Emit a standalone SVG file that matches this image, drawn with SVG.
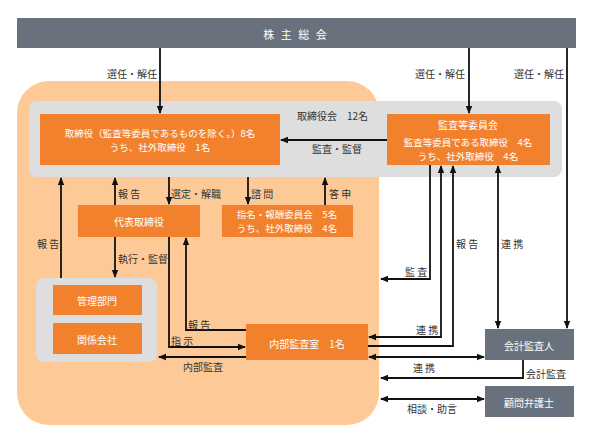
<svg xmlns="http://www.w3.org/2000/svg" width="592" height="444" viewBox="0 0 592 444">
<style>
text{font-family:"Noto Sans CJK JP","Noto Sans",sans-serif;font-size:10px;dominant-baseline:central}
.w{fill:#ffffff;text-anchor:middle}
.s{font-size:9.5px}
.l{fill:#333333}
.c{text-anchor:middle}
.e{text-anchor:end}
.ob{fill:#f2812e}
.gb{fill:#69717d}
.ln{fill:none;stroke:#111111;stroke-width:1.8}
</style>
<defs>
<marker id="ah" viewBox="0 0 8 8" refX="7" refY="4" markerWidth="8" markerHeight="8" markerUnits="userSpaceOnUse" orient="auto-start-reverse">
<path d="M0,0.8 L8,4 L0,7.2 Z" fill="#111111"/>
</marker>
</defs>
<rect width="592" height="444" fill="#ffffff"/>
<g id="bg-company">
<rect x="17" y="81" width="362" height="344" rx="32" fill="#fdca97"/>
</g>
<g id="board">
<rect x="29" y="101" width="533" height="76" rx="8" fill="#dedede"/>
<text class="l" x="297" y="115">取締役会　12名</text>
</g>
<g id="group-box">
<rect x="36" y="278" width="121" height="84" rx="8" fill="#dedede"/>
</g>
<g id="shareholders">
<rect x="17" y="18" width="559" height="30" class="gb"/>
<text class="w" x="296" y="34" style="font-size:11px;letter-spacing:2px">株 主 総 会</text>
</g>
<g id="directors">
<rect x="40" y="114" width="240" height="51" class="ob"/>
<text class="w s" x="160" y="132.5">取締役（監査等委員であるものを除く。）8名</text>
<text class="w s" x="160" y="146.5">うち、社外取締役　1名</text>
</g>
<g id="audit-committee">
<rect x="387" y="114" width="163" height="51" class="ob"/>
<text class="w" x="468" y="124">監査等委員会</text>
<text class="w s" x="468" y="141.5">監査等委員である取締役　4名</text>
<text class="w s" x="468" y="155.5">うち、社外取締役　4名</text>
</g>
<g id="representative">
<rect x="78" y="205" width="122" height="32" class="ob"/>
<text class="w" x="139" y="221">代表取締役</text>
</g>
<g id="nomination">
<rect x="222" y="205" width="131" height="32" class="ob"/>
<text class="w s" x="287" y="214">指名・報酬委員会　5名</text>
<text class="w s" x="287" y="228">うち、社外取締役　4名</text>
</g>
<g id="management">
<rect x="53" y="285" width="89" height="30" class="ob"/>
<text class="w" x="97" y="300">管理部門</text>
</g>
<g id="affiliates">
<rect x="53" y="323" width="89" height="31" class="ob"/>
<text class="w" x="97" y="339">関係会社</text>
</g>
<g id="internal-audit">
<rect x="246" y="324" width="122" height="36" class="ob"/>
<text class="w" x="307" y="343">内部監査室　1名</text>
</g>
<g id="accounting-auditor">
<rect x="485" y="329" width="89" height="31" class="gb"/>
<text class="w" x="529" y="345">会計監査人</text>
</g>
<g id="legal-advisor">
<rect x="485" y="386" width="89" height="31" class="gb"/>
<text class="w" x="529" y="402">顧問弁護士</text>
</g>
<g id="connectors">
<path class="ln" d="M160,48 V113" marker-end="url(#ah)"/>
<path class="ln" d="M469,48 V113" marker-end="url(#ah)"/>
<path class="ln" d="M567,48 V328" marker-end="url(#ah)"/>
<path class="ln" d="M387,140 H281" marker-end="url(#ah)"/>
<path class="ln" d="M61,278 V178" marker-end="url(#ah)"/>
<path class="ln" d="M115,205 V178" marker-end="url(#ah)"/>
<path class="ln" d="M169,177 V204" marker-end="url(#ah)"/>
<path class="ln" d="M248,177 V204" marker-end="url(#ah)"/>
<path class="ln" d="M325,205 V178" marker-end="url(#ah)"/>
<path class="ln" d="M115,237 V277" marker-end="url(#ah)"/>
<path class="ln" d="M169,237 V347 H245" marker-end="url(#ah)"/>
<path class="ln" d="M246,330 H186 V238" marker-end="url(#ah)"/>
<path class="ln" d="M246,357 H159" marker-end="url(#ah)"/>
<path class="ln" d="M430,165 V279 H381" marker-end="url(#ah)"/>
<path class="ln" d="M441,166 V337 H369" marker-start="url(#ah)" marker-end="url(#ah)"/>
<path class="ln" d="M368,346 H453 V166" marker-end="url(#ah)"/>
<path class="ln" d="M498,166 V328" marker-start="url(#ah)" marker-end="url(#ah)"/>
<path class="ln" d="M369,357 H484" marker-start="url(#ah)" marker-end="url(#ah)"/>
<path class="ln" d="M523,360 V378 H381" marker-end="url(#ah)"/>
<path class="ln" d="M381,399 H484" marker-start="url(#ah)" marker-end="url(#ah)"/>
<text class="l e" x="157" y="73">選任・解任</text>
<text class="l e" x="465" y="73">選任・解任</text>
<text class="l e" x="564" y="73">選任・解任</text>
<text class="l c" x="337" y="148">監査・監督</text>
<text class="l" x="37" y="243">報 告</text>
<text class="l" x="118" y="193">報 告</text>
<text class="l" x="171" y="193">選定・解職</text>
<text class="l" x="251" y="193">諮 問</text>
<text class="l" x="329" y="193">答 申</text>
<text class="l" x="118" y="258">執行・監督</text>
<text class="l" x="188" y="324">報 告</text>
<text class="l" x="171" y="340">指 示</text>
<text class="l c" x="203" y="366">内部監査</text>
<text class="l" x="405" y="271">監 査</text>
<text class="l" x="456" y="243">報 告</text>
<text class="l" x="501" y="243">連 携</text>
<text class="l" x="416" y="329">連 携</text>
<text class="l c" x="424" y="367">連 携</text>
<text class="l" x="526" y="373">会計監査</text>
<text class="l c" x="432" y="408">相談・助言</text>
</g>
</svg>
